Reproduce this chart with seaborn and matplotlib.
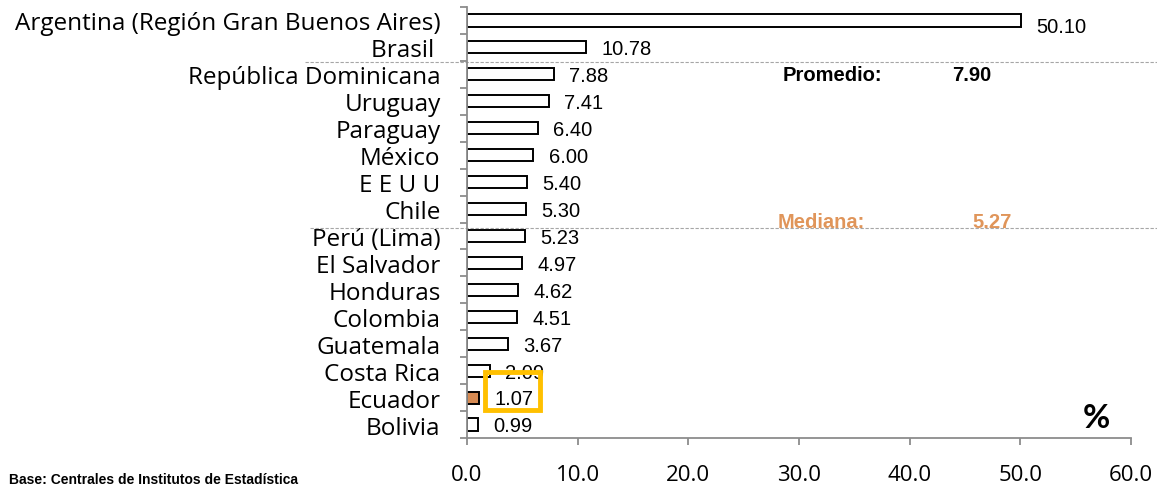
import numpy as np
import matplotlib
matplotlib.use("Agg")
import matplotlib.pyplot as plt
from matplotlib.patches import Rectangle
from matplotlib.transforms import blended_transform_factory
import seaborn as sns

# Tasa de desempleo por país (%)
paises = [
    "Argentina (Región Gran Buenos Aires)", "Brasil ", "República Dominicana",
    "Uruguay", "Paraguay", "México", "E E U U", "Chile", "Perú (Lima)",
    "El Salvador", "Honduras", "Colombia", "Guatemala", "Costa Rica",
    "Ecuador", "Bolivia",
]
valores = [50.10, 10.78, 7.88, 7.41, 6.40, 6.00, 5.40, 5.30, 5.23,
           4.97, 4.62, 4.51, 3.67, 2.09, 1.07, 0.99]
promedio = 7.90
mediana = 5.27
xticks = [0, 10, 20, 30, 40, 50, 60]
destacado = "Ecuador"

sns.set_style("white")
plt.rcParams["font.family"] = ["Open Sans", "DejaVu Sans"]
plt.rcParams["text.color"] = "black"
plt.rcParams["xtick.labelcolor"] = "black"
plt.rcParams["ytick.labelcolor"] = "black"

fig = plt.figure(figsize=(11.57, 4.89), dpi=100)
ax = fig.add_axes([0.4036, 0.1022, 0.9775 - 0.4036, 0.9836 - 0.1022])

colores = ["#D68A52" if p == destacado else "white" for p in paises]
sns.barplot(x=valores, y=paises, hue=paises, palette=colores, legend=False,
            orient="h", width=0.45, edgecolor="black", linewidth=1.4,
            saturation=1, ax=ax)

ax.set_xlim(0, 60)
ax.set_ylim(len(paises) - 0.5, -0.5)
ax.set_xticks(xticks)
ax.set_xticklabels([f"{v:.1f}" for v in xticks], fontsize=16)
ax.set_xlabel("")
ax.set_ylabel("")

gris = "#8c8c8c"
for s in ["top", "right"]:
    ax.spines[s].set_visible(False)
for s in ["left", "bottom"]:
    ax.spines[s].set_color(gris)
    ax.spines[s].set_linewidth(1.3)

# category labels centred, tick marks on category boundaries
ax.set_yticks(np.arange(len(paises)))
ax.set_yticklabels(paises, fontsize=17.5)
ax.set_yticks(np.arange(-0.5, len(paises), 1), minor=True)
ax.tick_params(axis="y", which="major", length=0, pad=19)
ax.tick_params(axis="y", which="minor", length=5, width=1.3, color=gris,
               direction="out", left=True)
ax.tick_params(axis="x", which="major", length=5, width=1.3, color=gris,
               direction="out", bottom=True, pad=14)

narrow = ["Liberation Sans Narrow", "Liberation Sans", "DejaVu Sans"]

# value labels
for i, v in enumerate(valores):
    dy = 0.22 if i == 0 else 0.05
    ax.annotate(f"{v:.2f}", xy=(v, i + dy), xytext=(11, 0),
                textcoords="offset points", va="center", ha="left",
                fontsize=14.5, family=narrow)

# highlight box around Ecuador's label
idx = paises.index(destacado)
ax.add_patch(Rectangle((1.63, idx + 0.45), 4.95, -1.41, fill=False,
                       edgecolor="#FFC000", linewidth=3.5, clip_on=False,
                       zorder=5))

# reference lines for average and median
tr = blended_transform_factory(fig.transFigure, ax.transData)
ax.plot([0.264, 1.0], [1.55, 1.55], transform=tr, color="#a6a6a6",
        linestyle=(0, (3, 1.5)), linewidth=0.8, clip_on=False)
ax.plot([0.268, 1.0], [7.69, 7.69], transform=tr, color="#a6a6a6",
        linestyle=(0, (3, 1.5)), linewidth=0.8, clip_on=False)

ax.text(28.5, 2.0, "Promedio:", fontsize=14.5, fontweight="bold",
        family=narrow, va="center", ha="left")
ax.text(43.8, 2.0, f"{promedio:.2f}", fontsize=14.5, fontweight="bold",
        family=narrow, va="center", ha="left")
ax.text(28.1, 7.45, "Mediana:", fontsize=14.5, fontweight="bold",
        family=narrow, color="#E0955A", va="center", ha="left")
ax.text(45.7, 7.45, f"{mediana:.2f}", fontsize=14.5, fontweight="bold",
        family=narrow, color="#E0955A", va="center", ha="left")

ax.text(56.9, 14.75, "%", fontsize=24, fontweight="bold", va="center",
        ha="center", family=["Lato", "DejaVu Sans"])

fig.text(0.008, 0.004, "Base: Centrales de Institutos de Estadística",
         fontsize=10, fontweight="bold", family=narrow, va="bottom",
         ha="left")

fig.savefig("out.png", dpi=100)
